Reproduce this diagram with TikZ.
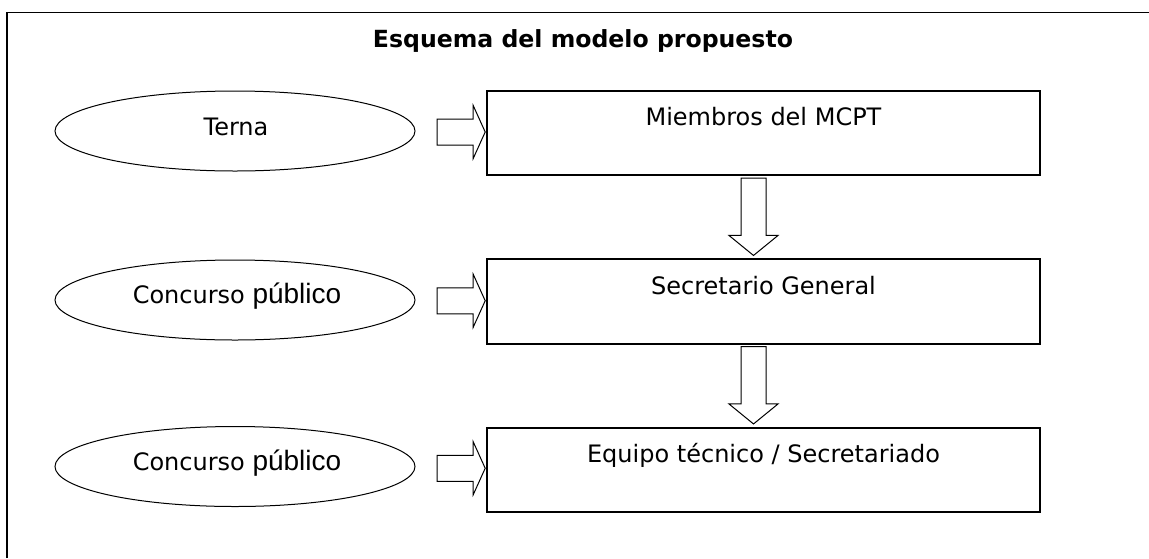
\documentclass[tikz,border=0pt]{standalone}
\usepackage{fontspec}
\setmainfont{DejaVu Sans}
\newfontfamily\pubfont{Liberation Sans}
\usetikzlibrary{shapes.geometric,calc}
\begin{document}
\begin{tikzpicture}[x=1pt,y=-1pt,
  box/.style={draw, line width=1.6pt, minimum width=553pt, minimum height=84.5pt, inner sep=0pt},
  ell/.style={draw, ellipse, line width=1pt, minimum width=360pt, minimum height=80pt, inner sep=0pt},
  lbl/.style={anchor=base, inner sep=0pt, font=\fontsize{24}{28}\selectfont},
  blk/.style={draw, line width=1pt, fill=white, line join=miter},
  frameline/.style={line width=1.3pt}]
\useasboundingbox (0,0) rectangle (1149,558);
% frame (open on right and bottom)
\draw[frameline] (7,558) -- (7,12.5) -- (1149,12.5);
% title
\node[anchor=base, inner sep=0pt, font=\bfseries\fontsize{23.6}{28}\selectfont] (title) at (583,47) {Esquema del modelo propuesto};
% boxes
\node[box] (b1) at (763.5,133) {};
\node[box] (b2) at (763.5,301.5) {};
\node[box] (b3) at (763.5,470) {};
\node[lbl] (t1) at ($(b1.north)+(0,36)$) {Miembros del MCPT};
\node[lbl] (t2) at ($(b2.north)+(0,36)$) {Secretario General};
\node[lbl] (t3) at ($(b3.north)+(0,36)$) {Equipo técnico / Secretariado};
% ellipses
\node[ell] (e1) at (235,131) {};
\node[ell] (e2) at (235,300) {};
\node[ell] (e3) at (235,466.5) {};
\node[lbl] (s1) at ($(e1.center)+(1,4)$) {Terna};
\node[lbl] (s2) at ($(e2.center)+(2,3.5)$) {Concurso {\pubfont\fontsize{28}{30}\selectfont público}};
\node[lbl] (s3) at ($(e3.center)+(2,3.5)$) {Concurso {\pubfont\fontsize{28}{30}\selectfont público}};
% right block arrows
\foreach \i in {1,2,3} {
  \draw[blk] let \p1=($(e\i.east)!0.5!(b\i.west)$), \p2=(b\i.west) in
    (\x2-49pt,\y1+13pt) -- (\x2-13pt,\y1+13pt) -- (\x2-13pt,\y1+26.5pt) -- (\x2-1pt,\y1)
    -- (\x2-13pt,\y1-26.5pt) -- (\x2-13pt,\y1-13pt) -- (\x2-49pt,\y1-13pt) -- cycle;
}
% down block arrows
\foreach \a/\b in {b1/b2,b2/b3} {
  \draw[blk] let \p1=(\a.south), \p2=(\b.north) in
    (\x1-22.5pt,\y1-2pt) -- (\x1+2.5pt,\y1-2pt) -- (\x1+2.5pt,\y2+23pt) -- (\x1+14.5pt,\y2+23pt)
    -- (\x1-10pt,\y2+3pt) -- (\x1-34.5pt,\y2+23pt) -- (\x1-22.5pt,\y2+23pt) -- cycle;
}
\end{tikzpicture}
\end{document}
